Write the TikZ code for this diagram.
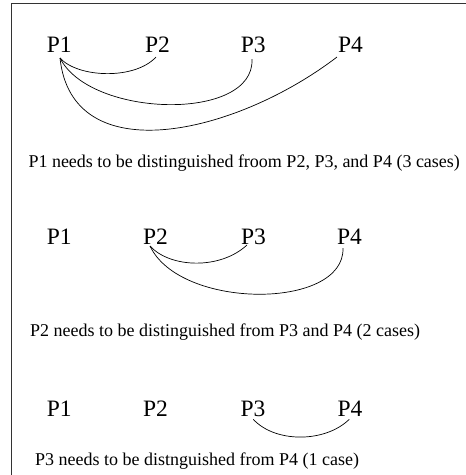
\documentclass[tikz,border=0pt]{standalone}
\usepackage{fontspec}
\setmainfont{Liberation Serif}
\usetikzlibrary{calc}
\begin{document}
\begin{tikzpicture}[x=1pt,y=1pt,
  lbl/.style={anchor=base,inner sep=0pt,font=\fontsize{23.5}{26}\selectfont},
  captext/.style={anchor=base west,inner sep=0pt,font=\fontsize{18}{20}\selectfont},
  link/.style={line width=0.7pt},
  frame/.style={line width=1pt,draw=black!80}]
\useasboundingbox (0,0) rectangle (466,-475);
\draw[frame] (11,-475) -- (11,-3) -- (466,-3);
% row 1
\node[lbl] (a1) at (59.2,-52.7) {P1};
\node[lbl] (a2) at (157.5,-52.7) {P2};
\node[lbl] (a3) at (253.3,-52.7) {P3};
\node[lbl] (a4) at (350.5,-52.7) {P4};
\node[captext] (t1) at (28.3,-167) {P1 needs to be distinguished froom P2, P3, and P4 (3 cases)};
\draw[link] ($(a1.base)+(0.8,-5.3)$) .. controls (78,-78) and (135,-80) .. ($(a2.base)+(-1.5,-4.3)$);
\draw[link] ($(a1.base)+(0.8,-5.3)$) .. controls (90,-118) and (255,-122) .. ($(a3.base)+(-1.3,-6.3)$);
\draw[link] ($(a1.base)+(0.8,-5.3)$) .. controls (72,-172) and (235,-135) .. ($(a4.base)+(-13.5,-4.3)$);
% row 2
\node[lbl] (b1) at (59.2,-244) {P1};
\node[lbl] (b2) at (155.5,-244) {P2};
\node[lbl] (b3) at (253.5,-244) {P3};
\node[lbl] (b4) at (349.5,-244) {P4};
\node[captext] (t2) at (30,-336) {P2 needs to be distinguished from P3 and P4 (2 cases)};
\draw[link] ($(b2.base)+(-5.5,-2)$) .. controls (170,-268) and (220,-270) .. ($(b3.base)+(-6.5,-1)$);
\draw[link] ($(b2.base)+(-5.5,-2)$) .. controls (180,-310) and (345,-310) .. ($(b4.base)+(-6.5,-4)$);
% row 3
\node[lbl] (c1) at (59.2,-416) {P1};
\node[lbl] (c2) at (155.5,-416) {P2};
\node[lbl] (c3) at (253,-416) {P3};
\node[lbl] (c4) at (350,-416) {P4};
\node[captext] (t3) at (35,-465) {P3 needs to be distnguished from P4 (1 case)};
\draw[link] ($(c3.base)+(0.3,-3.3)$) .. controls (275,-443) and (325,-443) .. ($(c4.base)+(-0.7,-3.3)$);
\end{tikzpicture}
\end{document}
